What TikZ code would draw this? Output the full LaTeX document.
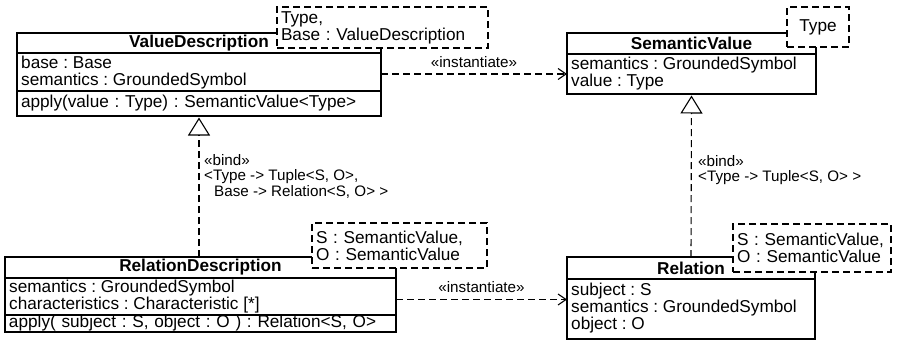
\documentclass[tikz,border=0pt]{standalone}
\usepackage{fontspec}
\setmainfont{Liberation Sans}
\usetikzlibrary{arrows.meta}
\newcommand{\mainfs}{\fontsize{17.2}{17}\selectfont\frenchspacing}
\newcommand{\lblfs}{\fontsize{15.2}{15.5}\selectfont\frenchspacing}
\begin{document}
\begin{tikzpicture}[x=1pt,y=-1pt,
  comp/.style={draw, line width=1.2pt, anchor=north west, inner sep=0pt, outer sep=0pt, font=\mainfs},
  titlec/.style={comp, align=center, font=\mainfs\bfseries},
  attrc/.style={comp, align=left, inner xsep=4pt},
  attrt/.style={anchor=north west, inner sep=0pt, align=left, font=\mainfs},
  tmpl/.style={draw, dashed, dash pattern=on 7pt off 4pt, line width=1.1pt, fill=white, anchor=north west, inner sep=0pt, inner xsep=4pt, outer sep=0pt, align=left, font=\mainfs},
  lbl/.style={font=\lblfs, inner sep=0pt, align=left},
  gen/.style={dashed, dash pattern=on 7pt off 4pt, line width=1.1pt, -{Triangle[open, length=18pt, width=22pt, line width=1.1pt]}, shorten >=1.5pt},
  inst/.style={dashed, dash pattern=on 7pt off 4pt, line width=1.1pt, -{Straight Barb[length=8pt, width=11pt, line width=1.1pt]}}
]
\useasboundingbox (0,0) rectangle (899,340);

% ValueDescription
\node[titlec, minimum width=364pt, minimum height=20pt] (vdN) at (17,33) {ValueDescription};
\node[comp, minimum width=364pt, minimum height=38pt] (vdA) at (17,53) {};
\node[attrt] (vdAt) at (21,56) {base : Base\\semantics : GroundedSymbol};
\node[attrc, minimum height=25pt, text width=356pt] (vdO) at (17,91) {apply(value : Type) : SemanticValue<Type>};
\node[tmpl, minimum height=41pt, text width=203pt] (vdT) at (277,7) {Type,\\Base : ValueDescription};

% SemanticValue
\node[titlec, minimum width=249pt, minimum height=21pt] (svN) at (567,33) {SemanticValue};
\node[comp, minimum width=249pt, minimum height=40pt] (svA) at (567,54) {};
\node[attrt] (svAt) at (571,57) {semantics : GroundedSymbol\\value : Type};
\node[tmpl, minimum height=40pt, minimum width=62pt, align=center, inner xsep=0pt] (svT) at (787,7) {Type};

% RelationDescription
\node[titlec, minimum width=391pt, minimum height=21pt] (rdN) at (5,257) {RelationDescription};
\node[comp, minimum width=391pt, minimum height=37pt] (rdA) at (5,278) {};
\node[attrt] (rdAt) at (9,280) {semantics : GroundedSymbol\\characteristics : Characteristic [*]};
\node[attrc, minimum height=17pt, text width=383pt] (rdO) at (5,315) {apply( subject : S, object : O ) : Relation<S, O>};
\node[tmpl, minimum height=45pt, text width=167pt] (rdT) at (312,223) {S : SemanticValue,\\O : SemanticValue};

% Relation
\node[titlec, minimum width=248pt, minimum height=22pt] (relN) at (567,257) {Relation};
\node[comp, minimum width=248pt, minimum height=60pt] (relA) at (567,279) {};
\node[attrt] (relAt) at (571,282.5) {subject : S\\semantics : GroundedSymbol\\object : O};
\node[tmpl, minimum height=48pt, text width=150pt] (relT) at (733,224) {S : SemanticValue,\\O : SemanticValue};

% connectors
\coordinate (i1) at ([yshift=-2pt]vdA.east);
\draw[inst] (i1) -- (i1 -| svA.west) node[lbl, midway, above=6pt] (lblI1) {«instantiate»};
\coordinate (i2) at ([yshift=-3pt]rdA.east);
\draw[inst] (i2) -- (i2 -| relA.west) node[lbl, midway, above=6pt] (lblI2) {«instantiate»};
\draw[gen] (rdN.north -| vdO.south) -- (vdO.south);
\draw[gen] (relN.north) -- (svA.south);

\node[lbl, anchor=west] (bind1) at (204,176) {«bind»\\<Type -> Tuple<S, O>,\\\hspace*{10pt}Base -> Relation<S, O> >};
\node[lbl, anchor=west] (bind2) at (698,170) {«bind»\\<Type -> Tuple<S, O> >};
\end{tikzpicture}
\end{document}
